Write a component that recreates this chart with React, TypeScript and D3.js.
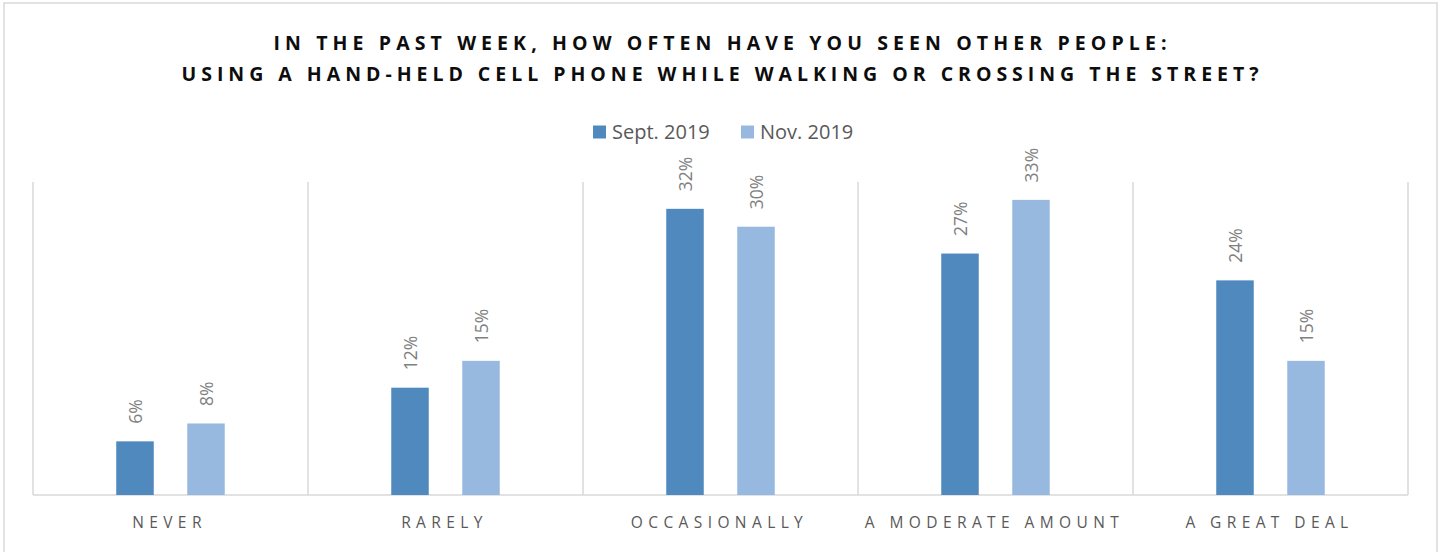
import React from "react";
import * as d3 from "d3";

const categories = ["NEVER", "RARELY", "OCCASIONALLY", "A MODERATE AMOUNT", "A GREAT DEAL"];
const seriesNames = ["Sept. 2019", "Nov. 2019"];
const sept2019 = [6, 12, 32, 27, 24];
const nov2019 = [8, 15, 30, 33, 15];
const titleLines = [
  "IN THE PAST WEEK, HOW OFTEN HAVE YOU SEEN OTHER PEOPLE:",
  "USING A HAND-HELD CELL PHONE WHILE WALKING OR CROSSING THE STREET?",
];

const W = 1443;
const H = 552;
const colors = ["#4f89bd", "#98b9df"];
const font = "'Open Sans', 'Liberation Sans', sans-serif";

export default function App() {
  const left = 33, right = 1408, top = 182, bottom = 495;
  const x = d3.scaleBand<string>().domain(categories).range([left, right]);
  const y = d3.scaleLinear().domain([0, 35]).range([bottom, top]);
  const barW = 37.5;
  const offsets = [-35.5, 35.5];
  const series = [sept2019, nov2019];
  const catSpacing = 5.4;

  return (
    <svg width={W} height={H} style={{ position: "absolute", left: 0, top: 0, background: "#fff" }}>
      <rect x={4} y={3} width={1433} height={H + 10} fill="#fff" stroke="#d9d9d9" strokeWidth={1.5} />
      {titleLines.map((t, i) => (
        <text
          key={i}
          x={720}
          y={50 + i * 31}
          textAnchor="middle"
          fontFamily={font}
          fontWeight={700}
          fontSize={19.5}
          fill="#0d0d0d"
          textLength={i === 0 ? 893 : 1077}
          lengthAdjust="spacing"
        >
          {t}
        </text>
      ))}
      {/* legend */}
      {seriesNames.map((s, i) => {
        const lx = [593, 741][i];
        return (
          <g key={s}>
            <rect x={lx} y={125.5} width={13} height={13} fill={colors[i]} />
            <text x={lx + 19} y={139} fontFamily={font} fontSize={20} fill="#595959">
              {s}
            </text>
          </g>
        );
      })}
      {/* vertical separators */}
      {d3.range(categories.length + 1).map((i) => {
        const xx = i < categories.length ? x(categories[i])! : right;
        return <line key={i} x1={xx} x2={xx} y1={top} y2={bottom} stroke="#d9d9d9" strokeWidth={1.5} />;
      })}
      <line x1={left} x2={right} y1={bottom} y2={bottom} stroke="#d9d9d9" strokeWidth={1.5} />
      {/* bars */}
      {series.map((vals, si) =>
        vals.map((v, ci) => {
          const cx = x(categories[ci])! + x.bandwidth() / 2 + offsets[si];
          return (
            <g key={`${si}-${ci}`}>
              <rect x={cx - barW / 2} y={y(v)} width={barW} height={bottom - y(v)} fill={colors[si]} />
              <text
                transform={`translate(${cx + 6.5},${y(v) - 17.5}) rotate(-90)`}
                fontFamily={font}
                fontSize={17.5}
                fill="#808080"
              >
                {v}%
              </text>
            </g>
          );
        })
      )}
      {/* category labels */}
      {categories.map((c) => (
        <text
          key={c}
          x={x(c)! + x.bandwidth() / 2 - 1}
          y={528}
          textAnchor="middle"
          fontFamily={font}
          fontSize={15.5}
          fill="#595959"
          letterSpacing={catSpacing}
        >
          {c}
        </text>
      ))}
    </svg>
  );
}
